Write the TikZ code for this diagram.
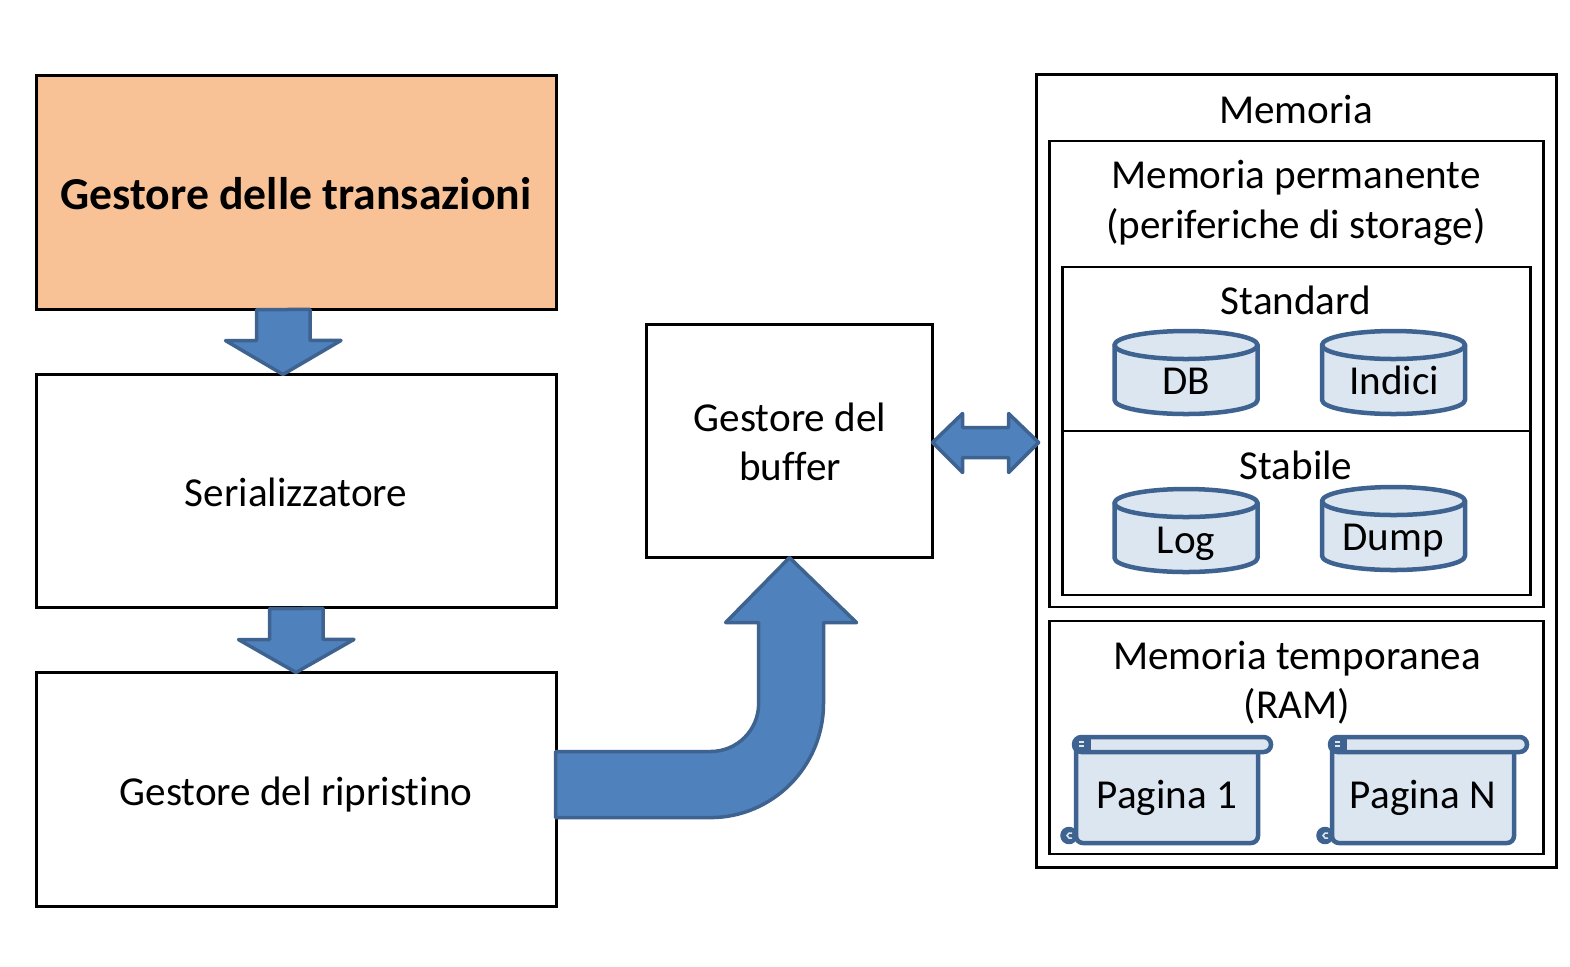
\documentclass[tikz,border=0pt]{standalone}
\usepackage{fontspec}
\setmainfont[Ligatures=NoCommon]{Carlito}
\definecolor{arrowblue}{HTML}{4F81BD}
\definecolor{arrowline}{HTML}{3E6390}
\definecolor{paleblue}{HTML}{DCE6F1}
\definecolor{shapeorange}{HTML}{F9C296}
\begin{document}
\begin{tikzpicture}[
        x = 0.01cm,
        y = -0.01cm,
        font = \fontsize{11.7}{14}\selectfont,
        box/.style = {draw = black, line width = 0.026cm, inner sep = 0, outer sep = 0, align = center},
        label/.style = {align = center, inner sep = 0},
        blockarrow/.style = {fill = arrowblue, draw = arrowline, line width = 0.035cm, line join = round},
        scroll/.style = {fill = paleblue, draw = arrowline, line width = 0.045cm, line join = round},
        pics/dbcan/.style = {code = {
            \draw[scroll] (-71.5,0) -- (-71.5,55) .. controls +(0,7.7) and +(-39,0) .. (0,69)
                .. controls +(39,0) and +(0,7.7) .. (71.5,55) -- (71.5,0) -- cycle;
            \draw[scroll] (0,0) circle[x radius = 71.5, y radius = 14];
        }},
        pics/scrollpage/.style = {code = {
            \draw[scroll, rounded corners = 2pt] (0,-4) -- (0,91) -- (182,91) -- (182,-4);
            \draw[scroll, fill = arrowline] (-7,83.5) circle[radius = 6.5];
            \draw[scroll, rounded corners = 2.1pt] (-2,-15) rectangle (195,0);
            \draw[arrowline, line width = 0.04cm] (13,-15) -- (13,0);
            \fill[arrowline] (-2,-13) rectangle (13,-2);
            \draw[paleblue, line width = 0.015cm] (8,-10) -- (3,-10) (8,-6) -- (3,-6);
            \draw[paleblue, line width = 0.015cm] (-4,81) -- (-7,81) -- (-9,83.5) -- (-7,86) -- (-4,86);
        }}
    ]
        \useasboundingbox (0,0) rectangle (1570,966);
        % left column
        \node[box, fill = shapeorange, minimum width = 5.2cm, minimum height = 2.34cm] (tm) at (296.5,192.5) {};
        \node[box, minimum width = 5.2cm, minimum height = 2.33cm] (ser) at (296.5,491) {};
        \node[box, minimum width = 5.2cm, minimum height = 2.34cm] (rip) at (296.5,789.5) {};
        \node[box, minimum width = 2.86cm, minimum height = 2.33cm] (buf) at (789.5,441) {};
        \node[label, font = \fontsize{13}{14}\selectfont\bfseries] (tmtext) at (296,194) {Gestore delle transazioni};
        \node[label] (sertext) at (296,492) {Serializzatore};
        \node[label] (riptext) at (296,795) {Gestore del ripristino};
        \node[label, font = \fontsize{11.7}{13.9}\selectfont] (buftext) at (790,442) {Gestore del\\buffer};
        % memory
        \node[box, minimum width = 5.2cm, minimum height = 7.92cm] (mem) at (1296.5,471) {};
        \node[box, minimum width = 4.94cm, minimum height = 4.66cm] (perm) at (1296.5,374) {};
        \node[box, minimum width = 4.68cm, minimum height = 1.64cm] (std) at (1296.5,349) {};
        \node[box, minimum width = 4.68cm, minimum height = 1.64cm] (stab) at (1296.5,513) {};
        \node[box, minimum width = 4.94cm, minimum height = 2.33cm] (temp) at (1296.5,737.5) {};
        \node[label] (memtext) at (1296,109.5) {Memoria};
        \node[label, font = \fontsize{11.7}{14.3}\selectfont] (permtext) at (1296,203) {Memoria permanente\\(periferiche di storage)};
        \node[label] (stdtext) at (1296,300) {Standard};
        \node[label] (stabtext) at (1296,465) {Stabile};
        \node[label] (temptext) at (1297,682.5) {Memoria temporanea\\(RAM)};
        \pic at (1186,345) {dbcan};
        \pic at (1393.5,345) {dbcan};
        \pic at (1186,503) {dbcan};
        \pic at (1393.5,501) {dbcan};
        \node[label] (db) at (1186,381) {DB};
        \node[label] (idx) at (1394,380) {Indici};
        \node[label] (log) at (1186,544) {Log};
        \node[label] (dump) at (1393,541) {Dump};
        \pic at (1076,752) {scrollpage};
        \pic at (1332,752) {scrollpage};
        \node[label] (pag1) at (1167,798) {Pagina 1};
        \node[label] (pagn) at (1423,798) {Pagina N};
        % block arrows
        \draw[blockarrow] (tm.south) ++(-40,0) -- ++(0,31) -- ++(-31,0) -- (ser.north -| 283,0) -- ++(58,-34) -- ++(-31,0) -- ++(0,-31) -- cycle;
        \draw[blockarrow] (ser.south) ++(-27,1) -- ++(0,31) -- ++(-31,0) -- (rip.north -| 296,0) -- ++(58,-33) -- ++(-31,0) -- ++(0,-31) -- cycle;
        \draw[blockarrow] (rip.east) ++(-1,-38) -- ++(155,0) .. controls +(26.5,0) and +(0,26.5) .. ++(48,-48)
            -- ++(0,-81) -- ++(-33,0) -- (buf.south) -- ++(67,65) -- ++(-33,0) -- ++(0,81)
            .. controls +(0,63) and +(62,0) .. ++(-113,114) -- ++(-155,0) -- cycle;
        \draw[blockarrow] (buf.east) ++(0,1.5) -- ++(30,-29) -- ++(0,14) -- ++(46,0) -- ++(0,-14) -- ++(30,29)
            -- ++(-30,30) -- ++(0,-15) -- ++(-46,0) -- ++(0,15) -- cycle;
    \end{tikzpicture}
\end{document}
